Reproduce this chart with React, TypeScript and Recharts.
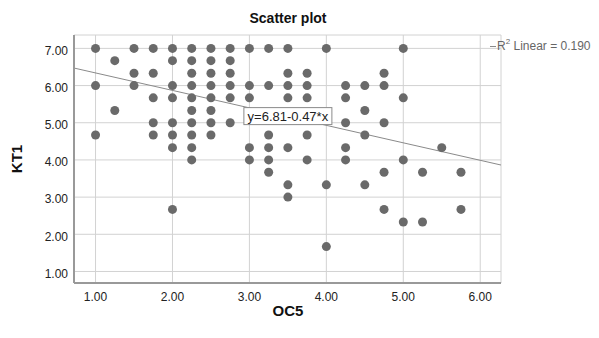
import {
  CartesianGrid,
  ReferenceDot,
  ReferenceLine,
  Scatter,
  ScatterChart,
  XAxis,
  YAxis,
} from "recharts"

// KT1 levels (rows) and the OC5 values seen on each row
const kt1Levels = [7, 6.67, 6.33, 6, 5.67, 5.33, 5, 4.67, 4.33, 4, 3.67, 3.33, 3, 2.67, 2.33, 1.67]
const oc5ByLevel = [
  [1, 1.5, 1.75, 2, 2.25, 2.5, 2.75, 3, 3.25, 3.5, 4, 5],
  [1.25, 2, 2.25, 2.5, 2.75],
  [1.5, 1.75, 2.25, 2.5, 2.75, 3.5, 3.75, 4.75],
  [1, 1.5, 2, 2.25, 2.5, 2.75, 3, 3.25, 3.5, 3.75, 4.25, 4.5, 4.75],
  [1.75, 2, 2.25, 2.5, 2.75, 3, 3.5, 3.75, 4.25, 5],
  [1.25, 2.25, 2.5, 4.5],
  [1.75, 2, 2.25, 2.5, 2.75, 4.25, 4.75],
  [1, 1.75, 2, 2.25, 2.5, 3.25, 3.75, 4.5],
  [2, 2.25, 3, 3.25, 3.5, 4.25, 5.5],
  [2.25, 3, 3.25, 3.75, 4.25, 5],
  [3.25, 4.75, 5.25, 5.75],
  [3.5, 4, 4.5],
  [3.5],
  [2, 4.75, 5.75],
  [5, 5.25],
  [4],
]

const xTicks = [1, 2, 3, 4, 5, 6]
const yTicks = [1, 2, 3, 4, 5, 6, 7]
const xDomain = [0.72, 6.27]
const yDomain = [0.69, 7.36]

const intercept = 6.81
const slope = -0.47
const r2 = "0.190"
const equation = "y=6.81-0.47*x"

const points = kt1Levels.flatMap((y, i) => oc5ByLevel[i].map((x) => ({ x, y })))

const font = '"Liberation Sans", Arial, sans-serif'

const Dot = (props: any) => <circle cx={props.cx} cy={props.cy} r={4.5} fill="#6a6a6a" />

const EquationBox = (props: any) => {
  const { x, y } = props.viewBox
  const cx = x + (props.viewBox.width || 0) / 2
  const cy = y + (props.viewBox.height || 0) / 2
  return (
    <g>
      <rect x={cx - 44} y={cy - 9} width={88} height={17} fill="#fff" stroke="#8a8a8a" />
      <text x={cx} y={cy} dy="0.35em" textAnchor="middle" fontSize={13} fill="#222" fontFamily={font}>
        {equation}
      </text>
    </g>
  )
}

const YTick = (props: any) => {
  const { x, y, payload } = props
  return (
    <text x={x} y={y + 2} dy="0.355em" textAnchor="end" fontSize={12} fill="#222">
      {payload.value.toFixed(2)}
    </text>
  )
}

const App = () => {
  return (
    <div style={{ position: "absolute", left: 0, top: 0, width: 599, height: 338, fontFamily: font, background: "#fff" }}>
      <ScatterChart width={599} height={338} margin={{ top: 35, right: 98, bottom: 0, left: 0 }}>
        <CartesianGrid stroke="#d2d2d2" />
        <XAxis
          type="number"
          dataKey="x"
          domain={xDomain}
          ticks={xTicks}
          allowDataOverflow
          height={55}
          tickLine={false}
          tickSize={0}
          tickMargin={9}
          tickFormatter={(v: number) => v.toFixed(2)}
          tick={{ fontSize: 12, fill: "#222" }}
          axisLine={{ stroke: "#999", strokeWidth: 2 }}
        />
        <YAxis
          type="number"
          dataKey="y"
          domain={yDomain}
          ticks={yTicks}
          allowDataOverflow
          width={74}
          tickLine={false}
          tickSize={0}
          tickMargin={6}
          tick={YTick}
          axisLine={{ stroke: "#999", strokeWidth: 2 }}
        />
        <Scatter data={points} shape={Dot} isAnimationActive={false} />
        <ReferenceLine
          segment={[
            { x: xDomain[0], y: intercept + slope * xDomain[0] },
            { x: xDomain[1], y: intercept + slope * xDomain[1] },
          ]}
          stroke="#8a8a8a"
          strokeWidth={1}
        />
        <ReferenceDot
          x={3.5}
          y={intercept + slope * 3.5}
          r={0.5}
          fill="none"
          stroke="none"
          label={EquationBox}
        />
      </ScatterChart>
      <div style={{ position: "absolute", left: 288, top: 18, transform: "translate(-50%,-50%)", fontSize: 14, fontWeight: "bold", color: "#111", whiteSpace: "nowrap", lineHeight: 1 }}>
        Scatter plot
      </div>
      <div style={{ position: "absolute", left: 16, top: 159, transform: "translate(-50%,-50%) rotate(-90deg)", fontSize: 15, fontWeight: "bold", color: "#111", whiteSpace: "nowrap", lineHeight: 1 }}>
        KT1
      </div>
      <div style={{ position: "absolute", left: 288, top: 310, transform: "translate(-50%,-50%)", fontSize: 15, fontWeight: "bold", color: "#111", whiteSpace: "nowrap", lineHeight: 1 }}>
        OC5
      </div>
      <div style={{ position: "absolute", left: 490, top: 46, width: 6, borderTop: "1px solid #8a8a8a" }} />
      <div style={{ position: "absolute", left: 497, top: 40, fontSize: 12, color: "#666", whiteSpace: "nowrap", lineHeight: 1 }}>
        R<sup style={{ fontSize: 8, verticalAlign: "top", position: "relative", top: -2 }}>2</sup> Linear = {r2}
      </div>
    </div>
  )
}

export default App
